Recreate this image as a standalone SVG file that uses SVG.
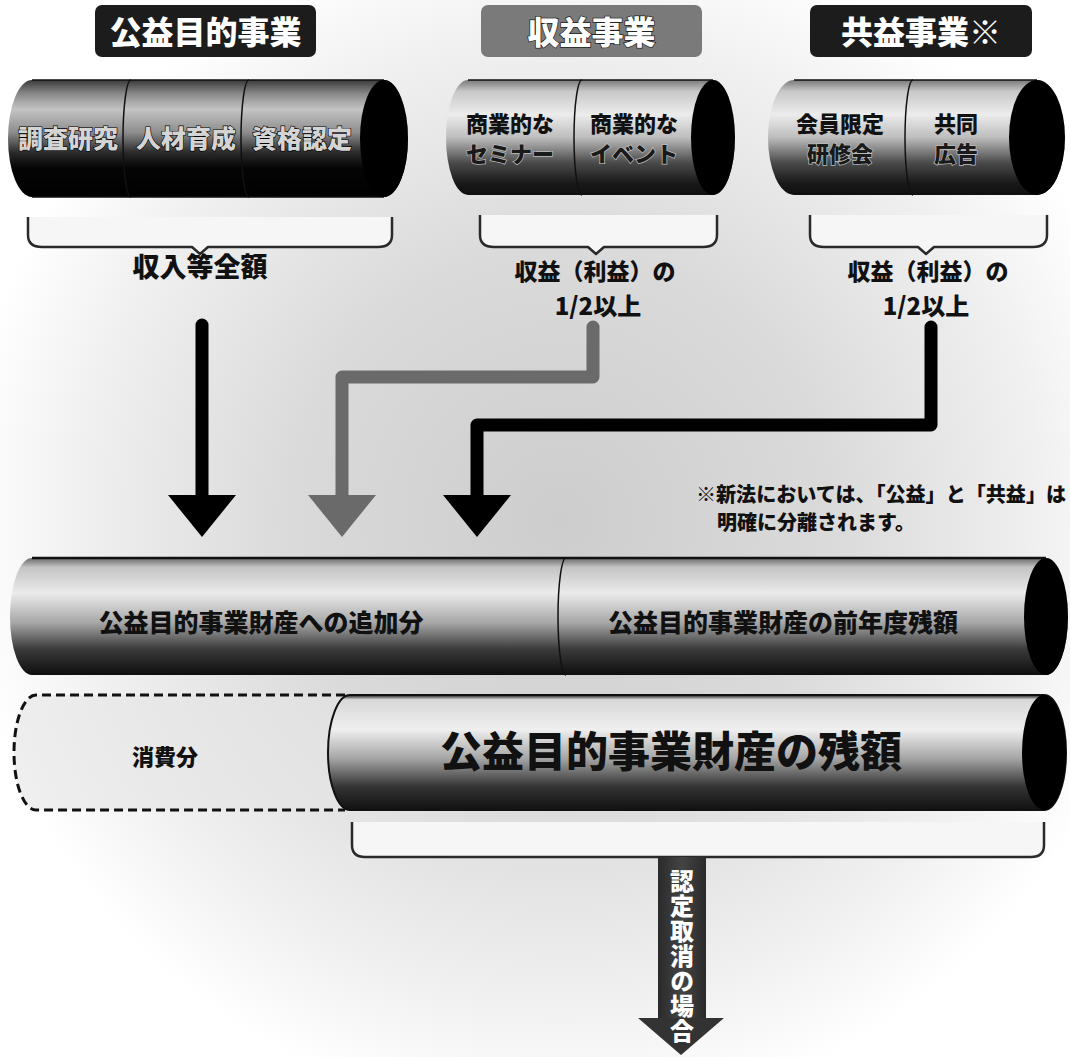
<svg xmlns="http://www.w3.org/2000/svg" width="1070" height="1057" viewBox="0 0 1070 1057">
<defs>
<radialGradient id="bg" cx="560" cy="520" r="600" gradientUnits="userSpaceOnUse">
<stop offset="0" stop-color="#cdcdcd"/>
<stop offset="0.45" stop-color="#dadada"/>
<stop offset="0.8" stop-color="#f0f0f0"/>
<stop offset="1" stop-color="#ffffff"/>
</radialGradient>
<linearGradient id="gDark" x1="0" y1="0" x2="0" y2="1">
<stop offset="0" stop-color="#3a3a3a"/>
<stop offset="0.12" stop-color="#8a8a8a"/>
<stop offset="0.25" stop-color="#c4c4c4"/>
<stop offset="0.45" stop-color="#8c8c8c"/>
<stop offset="0.62" stop-color="#2a2a2a"/>
<stop offset="0.75" stop-color="#050505"/>
<stop offset="1" stop-color="#000"/>
</linearGradient>
<linearGradient id="gLight" x1="0" y1="0" x2="0" y2="1">
<stop offset="0" stop-color="#7a7a7a"/>
<stop offset="0.1" stop-color="#c8c8c8"/>
<stop offset="0.3" stop-color="#ececec"/>
<stop offset="0.5" stop-color="#bdbdbd"/>
<stop offset="0.72" stop-color="#4a4a4a"/>
<stop offset="0.9" stop-color="#181818"/>
<stop offset="1" stop-color="#101010"/>
</linearGradient>
<linearGradient id="gBig" x1="0" y1="0" x2="0" y2="1">
<stop offset="0" stop-color="#6a6a6a"/>
<stop offset="0.08" stop-color="#c4c4c4"/>
<stop offset="0.3" stop-color="#ebebeb"/>
<stop offset="0.55" stop-color="#a8a8a8"/>
<stop offset="0.78" stop-color="#3a3a3a"/>
<stop offset="1" stop-color="#0e0e0e"/>
</linearGradient>
<linearGradient id="gBot" x1="0" y1="0" x2="0" y2="1">
<stop offset="0" stop-color="#1a1a1a"/>
<stop offset="0.04" stop-color="#d8d8d8"/>
<stop offset="0.3" stop-color="#efefef"/>
<stop offset="0.55" stop-color="#a6a6a6"/>
<stop offset="0.8" stop-color="#333"/>
<stop offset="1" stop-color="#111"/>
</linearGradient>
<linearGradient id="gShaft" x1="0" y1="0" x2="1" y2="0">
<stop offset="0" stop-color="#2a2a2a"/>
<stop offset="0.5" stop-color="#444"/>
<stop offset="1" stop-color="#2a2a2a"/>
</linearGradient>
<style>
.t{font-family:"Noto Sans CJK JP","Noto Sans CJK SC",sans-serif;font-weight:900;text-anchor:middle}
.title{font-size:32px;fill:#fff}
.lbl{font-size:26px;fill:#111}
.cyl-dark{font-size:25px;fill:#d4d4d4;stroke:#000;stroke-width:1.2px;paint-order:stroke}
.cyl-txt{font-size:22px;fill:#111}
.cyl-low{font-size:22px;fill:#1a1a1a;stroke:#bbb;stroke-width:1.5px;paint-order:stroke}
.mid-txt{font-size:25px;fill:#111}
.note{font-size:20px;fill:#111;text-anchor:start}
.cap{fill:#000}
.div{fill:none;stroke:#111;stroke-width:1.5}
.brace-fill{fill:#f6f6f6;stroke:none}
.brace{fill:none;stroke:#2a2a2a;stroke-width:2.5;stroke-linejoin:round}
.edge{fill:none;stroke:#111;stroke-width:1.5}
</style>
</defs>

<rect x="0" y="0" width="1070" height="1057" fill="url(#bg)"/>

<!-- Titles -->
<g id="title-koueki">
<rect x="95" y="5" width="221" height="52" rx="7" fill="#1c1c1c"/>
<text class="t title" x="205.5" y="44">公益目的事業</text>
</g>
<g id="title-shueki">
<rect x="481" y="5" width="221" height="52" rx="7" fill="#7a7a7a"/>
<text class="t title" x="591.5" y="44" style="stroke:#222;stroke-width:1.5px;paint-order:stroke">収益事業</text>
</g>
<g id="title-kyoueki">
<rect x="810" y="5" width="222" height="52" rx="7" fill="#1c1c1c"/>
<text class="t title" x="921" y="44">共益事業※</text>
</g>

<!-- Top-left cylinder -->
<g id="cyl-koueki">
<path d="M32 80 H384 A24 58.5 0 0 1 384 197 H32 A24 58.5 0 0 1 32 80 Z" fill="url(#gDark)"/>
<path class="edge" d="M32 80 H384 M32 197 H384"/>
<ellipse class="cap" cx="384" cy="138.5" rx="24" ry="58.5"/>
<path class="div" d="M131 80 A8 58.5 0 0 0 131 197"/>
<path class="div" d="M249 80 A8 58.5 0 0 0 249 197"/>
<text class="t cyl-dark" x="68" y="148">調査研究</text>
<text class="t cyl-dark" x="186" y="148">人材育成</text>
<text class="t cyl-dark" x="302" y="148">資格認定</text>
</g>

<!-- Middle cylinder -->
<g id="cyl-shueki">
<path d="M468 80 H713 A22 57.5 0 0 1 713 195 H468 A22 57.5 0 0 1 468 80 Z" fill="url(#gLight)"/>
<path class="edge" d="M468 80 H713"/>
<ellipse class="cap" cx="713" cy="137.5" rx="22" ry="57.5"/>
<path class="div" d="M582 80 A8 57.5 0 0 0 582 195"/>
<text class="t cyl-txt" x="510" y="132">商業的な</text>
<text class="t cyl-low" x="510" y="162">セミナー</text>
<text class="t cyl-txt" x="634" y="132">商業的な</text>
<text class="t cyl-low" x="634" y="162">イベント</text>
</g>

<!-- Right cylinder -->
<g id="cyl-kyoueki">
<path d="M794 80 H1037 A28 57.5 0 0 1 1037 195 H794 A26 57.5 0 0 1 794 80 Z" fill="url(#gLight)"/>
<path class="edge" d="M794 80 H1037"/>
<ellipse class="cap" cx="1037" cy="137.5" rx="28" ry="57.5"/>
<path class="div" d="M913 80 A8 57.5 0 0 0 913 195"/>
<text class="t cyl-txt" x="840" y="132">会員限定</text>
<text class="t cyl-low" x="840" y="162">研修会</text>
<text class="t cyl-txt" x="956" y="132">共同</text>
<text class="t cyl-low" x="956" y="162">広告</text>
</g>

<!-- Braces -->
<g id="brace-koueki">
<path class="brace-fill" d="M28 217 L28 235 Q28 247 42 247 L192 247 L200 254 L208 247 L378 247 Q392 247 392 235 L392 217 Z"/>
<path class="brace" d="M28 217 L28 235 Q28 247 42 247 L192 247 L200 254 L208 247 L378 247 Q392 247 392 235 L392 217"/>
</g>
<g id="brace-shueki">
<path class="brace-fill" d="M480 215 L480 235 Q480 247 494 247 L588 247 L596 254 L604 247 L703 247 Q717 247 717 235 L717 215 Z"/>
<path class="brace" d="M480 215 L480 235 Q480 247 494 247 L588 247 L596 254 L604 247 L703 247 Q717 247 717 235 L717 215"/>
</g>
<g id="brace-kyoueki">
<path class="brace-fill" d="M810 215 L810 235 Q810 247 824 247 L918 247 L926 254 L934 247 L1033 247 Q1047 247 1047 235 L1047 215 Z"/>
<path class="brace" d="M810 215 L810 235 Q810 247 824 247 L918 247 L926 254 L934 247 L1033 247 Q1047 247 1047 235 L1047 215"/>
</g>

<!-- Labels -->
<g id="label-koueki">
<text class="t lbl" x="200" y="277" style="font-size:27px">収入等全額</text>
</g>
<g id="label-shueki">
<text class="t lbl" x="595" y="280" style="font-size:23px">収益（利益）の</text>
<text class="t lbl" x="598" y="315" style="font-size:24px">1/2以上</text>
</g>
<g id="label-kyoueki">
<text class="t lbl" x="928" y="280" style="font-size:23px">収益（利益）の</text>
<text class="t lbl" x="926" y="315" style="font-size:24px">1/2以上</text>
</g>

<!-- Connectors -->
<g id="connectors">
<path d="M202 325 V500" fill="none" stroke="#000" stroke-width="13" stroke-linecap="round"/>
<polygon points="168,495 236,495 202,537" fill="#000"/>
<path d="M593 327 V377 H342 V500" fill="none" stroke="#6a6a6a" stroke-width="13" stroke-linecap="round" stroke-linejoin="round"/>
<polygon points="308,495 376,495 342,537" fill="#6a6a6a"/>
<path d="M931 327 V425 H477 V500" fill="none" stroke="#000" stroke-width="13" stroke-linecap="round" stroke-linejoin="round"/>
<polygon points="443,495 511,495 477,537" fill="#000"/>
</g>

<!-- Note -->
<g id="note">
<text class="t note" x="696" y="502" textLength="370" lengthAdjust="spacingAndGlyphs">※新法においては、「公益」と「共益」は</text>
<text class="t note" x="717" y="530">明確に分離されます。</text>
</g>

<!-- Middle big cylinder -->
<g id="cyl-zaisan">
<path d="M32 558 H1046 A22 58.5 0 0 1 1046 675 H32 A22 58.5 0 0 1 32 558 Z" fill="url(#gBig)"/>
<path class="edge" d="M32 558 H1046" style="stroke-width:2.5"/>
<ellipse class="cap" cx="1046" cy="616.5" rx="22" ry="58.5"/>
<path class="div" d="M566 558 A8 58.5 0 0 0 566 675"/>
<text class="t mid-txt" x="261" y="632">公益目的事業財産への追加分</text>
<text class="t mid-txt" x="783" y="632">公益目的事業財産の前年度残額</text>
</g>

<!-- Bottom: consumed (dashed) -->
<g id="shouhi">
<path d="M345 695 H36 A22 57.5 0 0 0 36 810 H345" fill="#e4e4e4" fill-opacity="0.6" stroke="#111" stroke-width="3" stroke-dasharray="9,5"/>
<text class="t" x="165" y="765" style="font-size:22px;fill:#111">消費分</text>
</g>

<!-- Bottom solid cylinder -->
<g id="cyl-zangaku">
<path d="M350 695 H1044 A22 57.5 0 0 1 1044 810 H350 A22 57.5 0 0 1 350 695 Z" fill="url(#gBot)" stroke="#111" stroke-width="2"/>
<ellipse class="cap" cx="1044" cy="752.5" rx="22" ry="57.5"/>
<text class="t" x="671" y="767" style="font-size:42px;fill:#111">公益目的事業財産の残額</text>
</g>

<!-- Bracket under bottom cylinder -->
<g id="bracket-zangaku">
<path class="brace-fill" d="M352 822 L352 845 Q352 857 365 857 L1031 857 Q1044 857 1044 845 L1044 822 Z"/>
<path class="brace" d="M352 822 L352 845 Q352 857 365 857 L1031 857 Q1044 857 1044 845 L1044 822"/>
</g>

<!-- Revocation arrow -->
<g id="arrow-torikeshi">
<rect x="658" y="857" width="48" height="163" fill="url(#gShaft)"/>
<polygon points="638,1018 724,1018 681,1055" fill="#333"/>
<text class="t" x="682" y="956" style="font-size:24px;fill:#fff;writing-mode:vertical-rl;letter-spacing:1px">認定取消の場合</text>
</g>
</svg>
